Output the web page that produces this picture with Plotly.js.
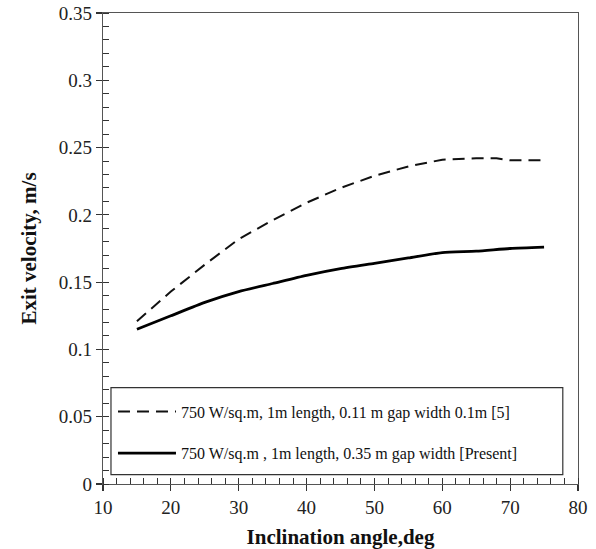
<!DOCTYPE html>
<html>
<head>
<meta charset="utf-8">
<script src="https://cdn.plot.ly/plotly-3.0.1.min.js"></script>
<style>html,body{margin:0;padding:0;background:#fff;}#chart{width:596px;height:549px;}</style>
</head>
<body>
<div id="chart"></div>
<script>
// Data
var angleRef = [15, 20, 25, 30, 35, 40, 45, 50, 55, 60, 65, 68, 70, 75];
var velocityRef = [0.121, 0.143, 0.163, 0.182, 0.196, 0.209, 0.220, 0.229, 0.236, 0.241, 0.242, 0.242, 0.2405, 0.2405];
var anglePresent = [15, 20, 25, 30, 35, 40, 45, 50, 55, 60, 65, 70, 75];
var velocityPresent = [0.115, 0.125, 0.135, 0.143, 0.149, 0.155, 0.160, 0.164, 0.168, 0.172, 0.173, 0.175, 0.176];
var nameRef = "750 W/sq.m, 1m length, 0.11 m gap width 0.1m [5]";
var namePresent = "750 W/sq.m , 1m length, 0.35 m gap width [Present]";
var xTitle = "Inclination angle,deg";
var yTitle = "Exit velocity, m/s";

var serif = "'Liberation Serif', 'Times New Roman', serif";

var traces = [
  {x: angleRef, y: velocityRef, name: nameRef, mode: "lines", legendgroup: "a",
   line: {color: "#111", width: 2, dash: "12px,7px"}},
  {x: anglePresent, y: velocityPresent, name: namePresent, mode: "lines", legendgroup: "b",
   line: {color: "#000", width: 2.8, shape: "spline", smoothing: 0.6}},
  // helper trace so the overlay axes (inner half of major ticks) are drawn
  {x: angleRef, y: velocityRef, xaxis: "x2", yaxis: "y2", mode: "lines", showlegend: false,
   hoverinfo: "skip", opacity: 0, line: {width: 0}}
];

var axisCommon = {
  showgrid: false, zeroline: false, showline: true, linecolor: "#555", linewidth: 1.2,
  mirror: true, ticks: "outside", ticklen: 6, tickwidth: 1.2, tickcolor: "#333",
  tickfont: {family: serif, size: 19, color: "#222"}
};

var layout = {
  width: 596, height: 549,
  margin: {l: 103, r: 18, t: 13, b: 65},
  paper_bgcolor: "#fff", plot_bgcolor: "#fff",
  font: {family: serif, color: "#111"},
  xaxis: Object.assign({}, axisCommon, {
    range: [10, 80], dtick: 10, tick0: 10,
    minor: {ticks: "inside", dtick: 2, ticklen: 6, tickwidth: 1, tickcolor: "#333"},
    title: {text: xTitle, font: {family: serif, size: 21, color: "#111", weight: "bold"}, standoff: 12}
  }),
  yaxis: Object.assign({}, axisCommon, {
    range: [0, 0.35], dtick: 0.05, tick0: 0,
    minor: {ticks: "inside", dtick: 0.01, ticklen: 6, tickwidth: 1, tickcolor: "#333"},
    title: {text: yTitle, font: {family: serif, size: 21, color: "#111", weight: "bold"}, standoff: 16}
  }),
  xaxis2: {overlaying: "x", range: [10, 80], dtick: 10, tick0: 10, ticks: "inside", ticklen: 6, tickwidth: 1.2, tickcolor: "#333",
    showticklabels: false, showgrid: false, zeroline: false, showline: false},
  yaxis2: {overlaying: "y", range: [0, 0.35], dtick: 0.05, tick0: 0, ticks: "inside", ticklen: 6, tickwidth: 1.2, tickcolor: "#333",
    showticklabels: false, showgrid: false, zeroline: false, showline: false},
  showlegend: true,
  legend: {
    x: 0.021, y: 0.19, xanchor: "left", yanchor: "top",
    bgcolor: "rgba(255,255,255,0)", borderwidth: 0,
    font: {family: serif, size: 16, color: "#111"},
    itemwidth: 58, tracegroupgap: 18, traceorder: "grouped"
  },
  shapes: [
    {type: "rect", xref: "paper", yref: "paper", x0: 0.0168, x1: 0.968, y0: 0.020, y1: 0.2047,
     line: {color: "#333", width: 1.2}, fillcolor: "rgba(0,0,0,0)", layer: "above"}
  ]
};

Plotly.newPlot("chart", traces, layout, {displayModeBar: false, staticPlot: true});
</script>
</body>
</html>
